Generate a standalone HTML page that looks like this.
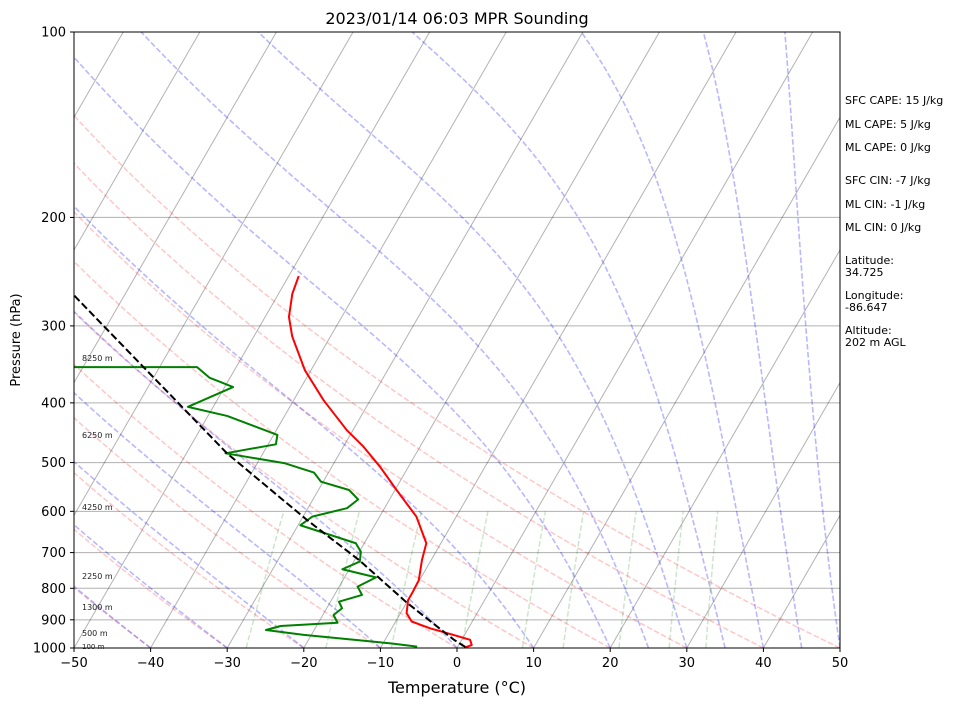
<!DOCTYPE html>
<html><head><meta charset="utf-8"><style>
html,body{margin:0;padding:0;background:#fff;}
svg{display:block;font-family:"DejaVu Sans","Liberation Sans",sans-serif;}
</style></head><body>
<svg id="chart" width="953" height="705" viewBox="0 0 953 705" xmlns="http://www.w3.org/2000/svg">
<defs><clipPath id="plotclip"><rect x="74" y="32" width="766" height="616"/></clipPath></defs>
<rect width="953" height="705" fill="#fff"/>
<g id="bg" clip-path="url(#plotclip)"></g>
<g id="prof" clip-path="url(#plotclip)"></g>
<rect x="74" y="32" width="766" height="616" fill="none" stroke="#000" stroke-width="1"/>
<g id="axes"></g>
<text x="457" y="24" text-anchor="middle" font-size="16">2023/01/14 06:03 MPR Sounding</text>
<text x="457" y="693" text-anchor="middle" font-size="16">Temperature (°C)</text>
<text x="20" y="340" text-anchor="middle" font-size="13" transform="rotate(-90 20 340)">Pressure (hPa)</text>
<g font-size="11">
<text x="845" y="104">SFC CAPE: 15 J/kg</text>
<text x="845" y="128">ML CAPE: 5 J/kg</text>
<text x="845" y="151">ML CAPE: 0 J/kg</text>
<text x="845" y="184">SFC CIN: -7 J/kg</text>
<text x="845" y="208">ML CIN: -1 J/kg</text>
<text x="845" y="231">ML CIN: 0 J/kg</text>
<text x="845" y="264">Latitude:</text>
<text x="845" y="276">34.725</text>
<text x="845" y="299">Longitude:</text>
<text x="845" y="311">-86.647</text>
<text x="845" y="334">Altitude:</text>
<text x="845" y="346">202 m AGL</text>
</g>
<g font-size="8" fill="#222">
<text x="82" y="361">8250 m</text>
<text x="82" y="438">6250 m</text>
<text x="82" y="510">4250 m</text>
<text x="82" y="579">2250 m</text>
<text x="82" y="610">1300 m</text>
<text x="82" y="636">500 m</text>
<text x="82" y="649" font-size="7">100 m</text>
</g>
</svg>
<script>
const pressureTicks = [100,200,300,400,500,600,700,800,900,1000];
const tempTicks = [-50,-40,-30,-20,-10,0,10,20,30,40,50];
const tempP = [249,266,290,312,354,396,443,471,508,554,612,676,720,776,810,836,878,906,929,952,970,989,998];
const tempT = [-48.7,-48.2,-46.9,-45.0,-40.8,-36.1,-30.8,-27.4,-23.7,-19.8,-15.2,-11.9,-11.2,-10.1,-10.0,-10.0,-9.2,-7.9,-5.0,-1.5,1.1,1.7,1.0];
const dewP = [349.5,350,364,377,406,420,451,467,483,501,519,537,554,574,593,612,632,676,698,724,745,768,795,820,841,862,884,910,921,935,952,983,995];
const dewT = [-130,-55.1,-52.7,-48.9,-53.3,-47.5,-39.5,-39.0,-44.9,-36.5,-31.9,-30.3,-26.0,-24.1,-24.9,-28.8,-29.7,-21.1,-19.8,-19.2,-20.9,-15.9,-17.6,-16.4,-18.9,-18.0,-18.6,-17.5,-24.7,-26.3,-21.0,-9.0,-5.3];
const parcelP = [268,483,620,720,845,970,996];
const parcelT = [-76.5,-44.7,-29.2,-19.4,-9.9,-1.0,1.0];
const dryT0 = [-40,-30,-20,-10,0,10,20,30,40,50];
const moistT0 = [-40,-30,-20,-10,0,10,20,25,30,35,40,45,50];
const mixRatios = [0.0004,0.001,0.002,0.004,0.007,0.01,0.016,0.024,0.032];

const X0=74, X1=840, Y0=32, Y1=648, TMIN=-50, TMAX=50, PBOT=1000, PTOP=100;
const SKEW=Math.tan(30*Math.PI/180);
function yOf(p){return Y1-(Y1-Y0)*Math.log10(PBOT/p)/Math.log10(PBOT/PTOP);}
function xOf(T,p){return X0+(T-TMIN)*(X1-X0)/(TMAX-TMIN)+(Y1-yOf(p))*SKEW;}
const NS="http://www.w3.org/2000/svg";
const bg=document.getElementById('bg'), prof=document.getElementById('prof'), axes=document.getElementById('axes');
function pathFrom(Ts,Ps){let d='';for(let i=0;i<Ts.length;i++){d+=(i?'L':'M')+xOf(Ts[i],Ps[i]).toFixed(2)+','+yOf(Ps[i]).toFixed(2);}return d;}
function mk(tag,attrs,parent){const e=document.createElementNS(NS,tag);for(const k in attrs)e.setAttribute(k,attrs[k]);parent.appendChild(e);return e;}
const pgrid=[];for(let p=1000;p>=100;p-=10)pgrid.push(p);

for(const p of pressureTicks){
  const l=mk('line',{x1:X0,x2:X1,y1:yOf(p),y2:yOf(p),stroke:'#b0b0b0','stroke-width':1},bg);
  
  
}
for(let T=-200;T<=50;T+=10){
  const l=mk('line',{x1:xOf(T,1000),y1:yOf(1000),x2:xOf(T,100),y2:yOf(100),stroke:'#000','stroke-opacity':0.3,'stroke-width':1},bg);
  
  
}
for(const t0 of dryT0){
  const th=t0+273.15;const Ts=pgrid.map(p=>th*Math.pow(p/1000,0.2857)-273.15);
  const e=mk('path',{d:pathFrom(Ts,pgrid),fill:'none',stroke:'red','stroke-opacity':0.22,'stroke-width':1.5,'stroke-dasharray':'5.5,2.4'},bg);
  
  
}
function esat(Tc){return 6.112*Math.exp(17.67*Tc/(Tc+243.5));}
function moistGrad(p,T){const Rd=287.04,Cp=1005.7,Lv=2.501e6,eps=0.622;const es=esat(T-273.15);const rs=eps*es/(p-es);
  return (1/p)*(Rd*T+Lv*rs)/(Cp+(Lv*Lv*rs*eps)/(Rd*T*T));}
for(const t0 of moistT0){
  const Ps=[],Ts=[];let T=t0+273.15,p=1000;const dp=-5;
  while(p>=100){Ps.push(p);Ts.push(T-273.15);
    const k1=moistGrad(p,T),k2=moistGrad(p+dp/2,T+dp/2*k1),k3=moistGrad(p+dp/2,T+dp/2*k2),k4=moistGrad(p+dp,T+dp*k3);
    T+=dp/6*(k1+2*k2+2*k3+k4);p+=dp;}
  const e=mk('path',{d:pathFrom(Ts,Ps),fill:'none',stroke:'blue','stroke-opacity':0.28,'stroke-width':1.6,'stroke-dasharray':'5.5,2.4'},bg);
  
  
}
for(const w of mixRatios){
  const Ps=[],Ts=[];for(let p=1000;p>=600;p-=10){const e=w*p/(0.622+w);const l=Math.log(e/6.112);Ps.push(p);Ts.push(243.5*l/(17.67-l));}
  const e=mk('path',{d:pathFrom(Ts,Ps),fill:'none',stroke:'green','stroke-opacity':0.2,'stroke-width':1.5,'stroke-dasharray':'5.5,2.4'},bg);
  
  
}
const tl=mk('path',{d:pathFrom(tempT,tempP),fill:'none',stroke:'red','stroke-width':2,'stroke-linejoin':'round'},prof);


const dl=mk('path',{d:pathFrom(dewT,dewP),fill:'none',stroke:'green','stroke-width':2,'stroke-linejoin':'round'},prof);


const pl=mk('path',{d:pathFrom(parcelT,parcelP),fill:'none',stroke:'#000','stroke-width':2,'stroke-dasharray':'7.4,3.2'},prof);


for(const p of pressureTicks){
  const y=yOf(p);
  mk('line',{x1:X0-4,x2:X0,y1:y,y2:y,stroke:'#000','stroke-width':1},axes);
  const t=mk('text',{x:X0-8,y:y+4.5,'text-anchor':'end','font-size':13},axes);
  t.textContent=p;
  
  
}
for(const T of tempTicks){
  const x=X0+(T-TMIN)*(X1-X0)/(TMAX-TMIN);
  mk('line',{x1:x,x2:x,y1:Y1,y2:Y1+4,stroke:'#000','stroke-width':1},axes);
  const t=mk('text',{x:x,y:Y1+19,'text-anchor':'middle','font-size':13},axes);
  t.textContent=(T<0?'\u2212'+(-T):T);
  
  
}
</script>
</body></html>
